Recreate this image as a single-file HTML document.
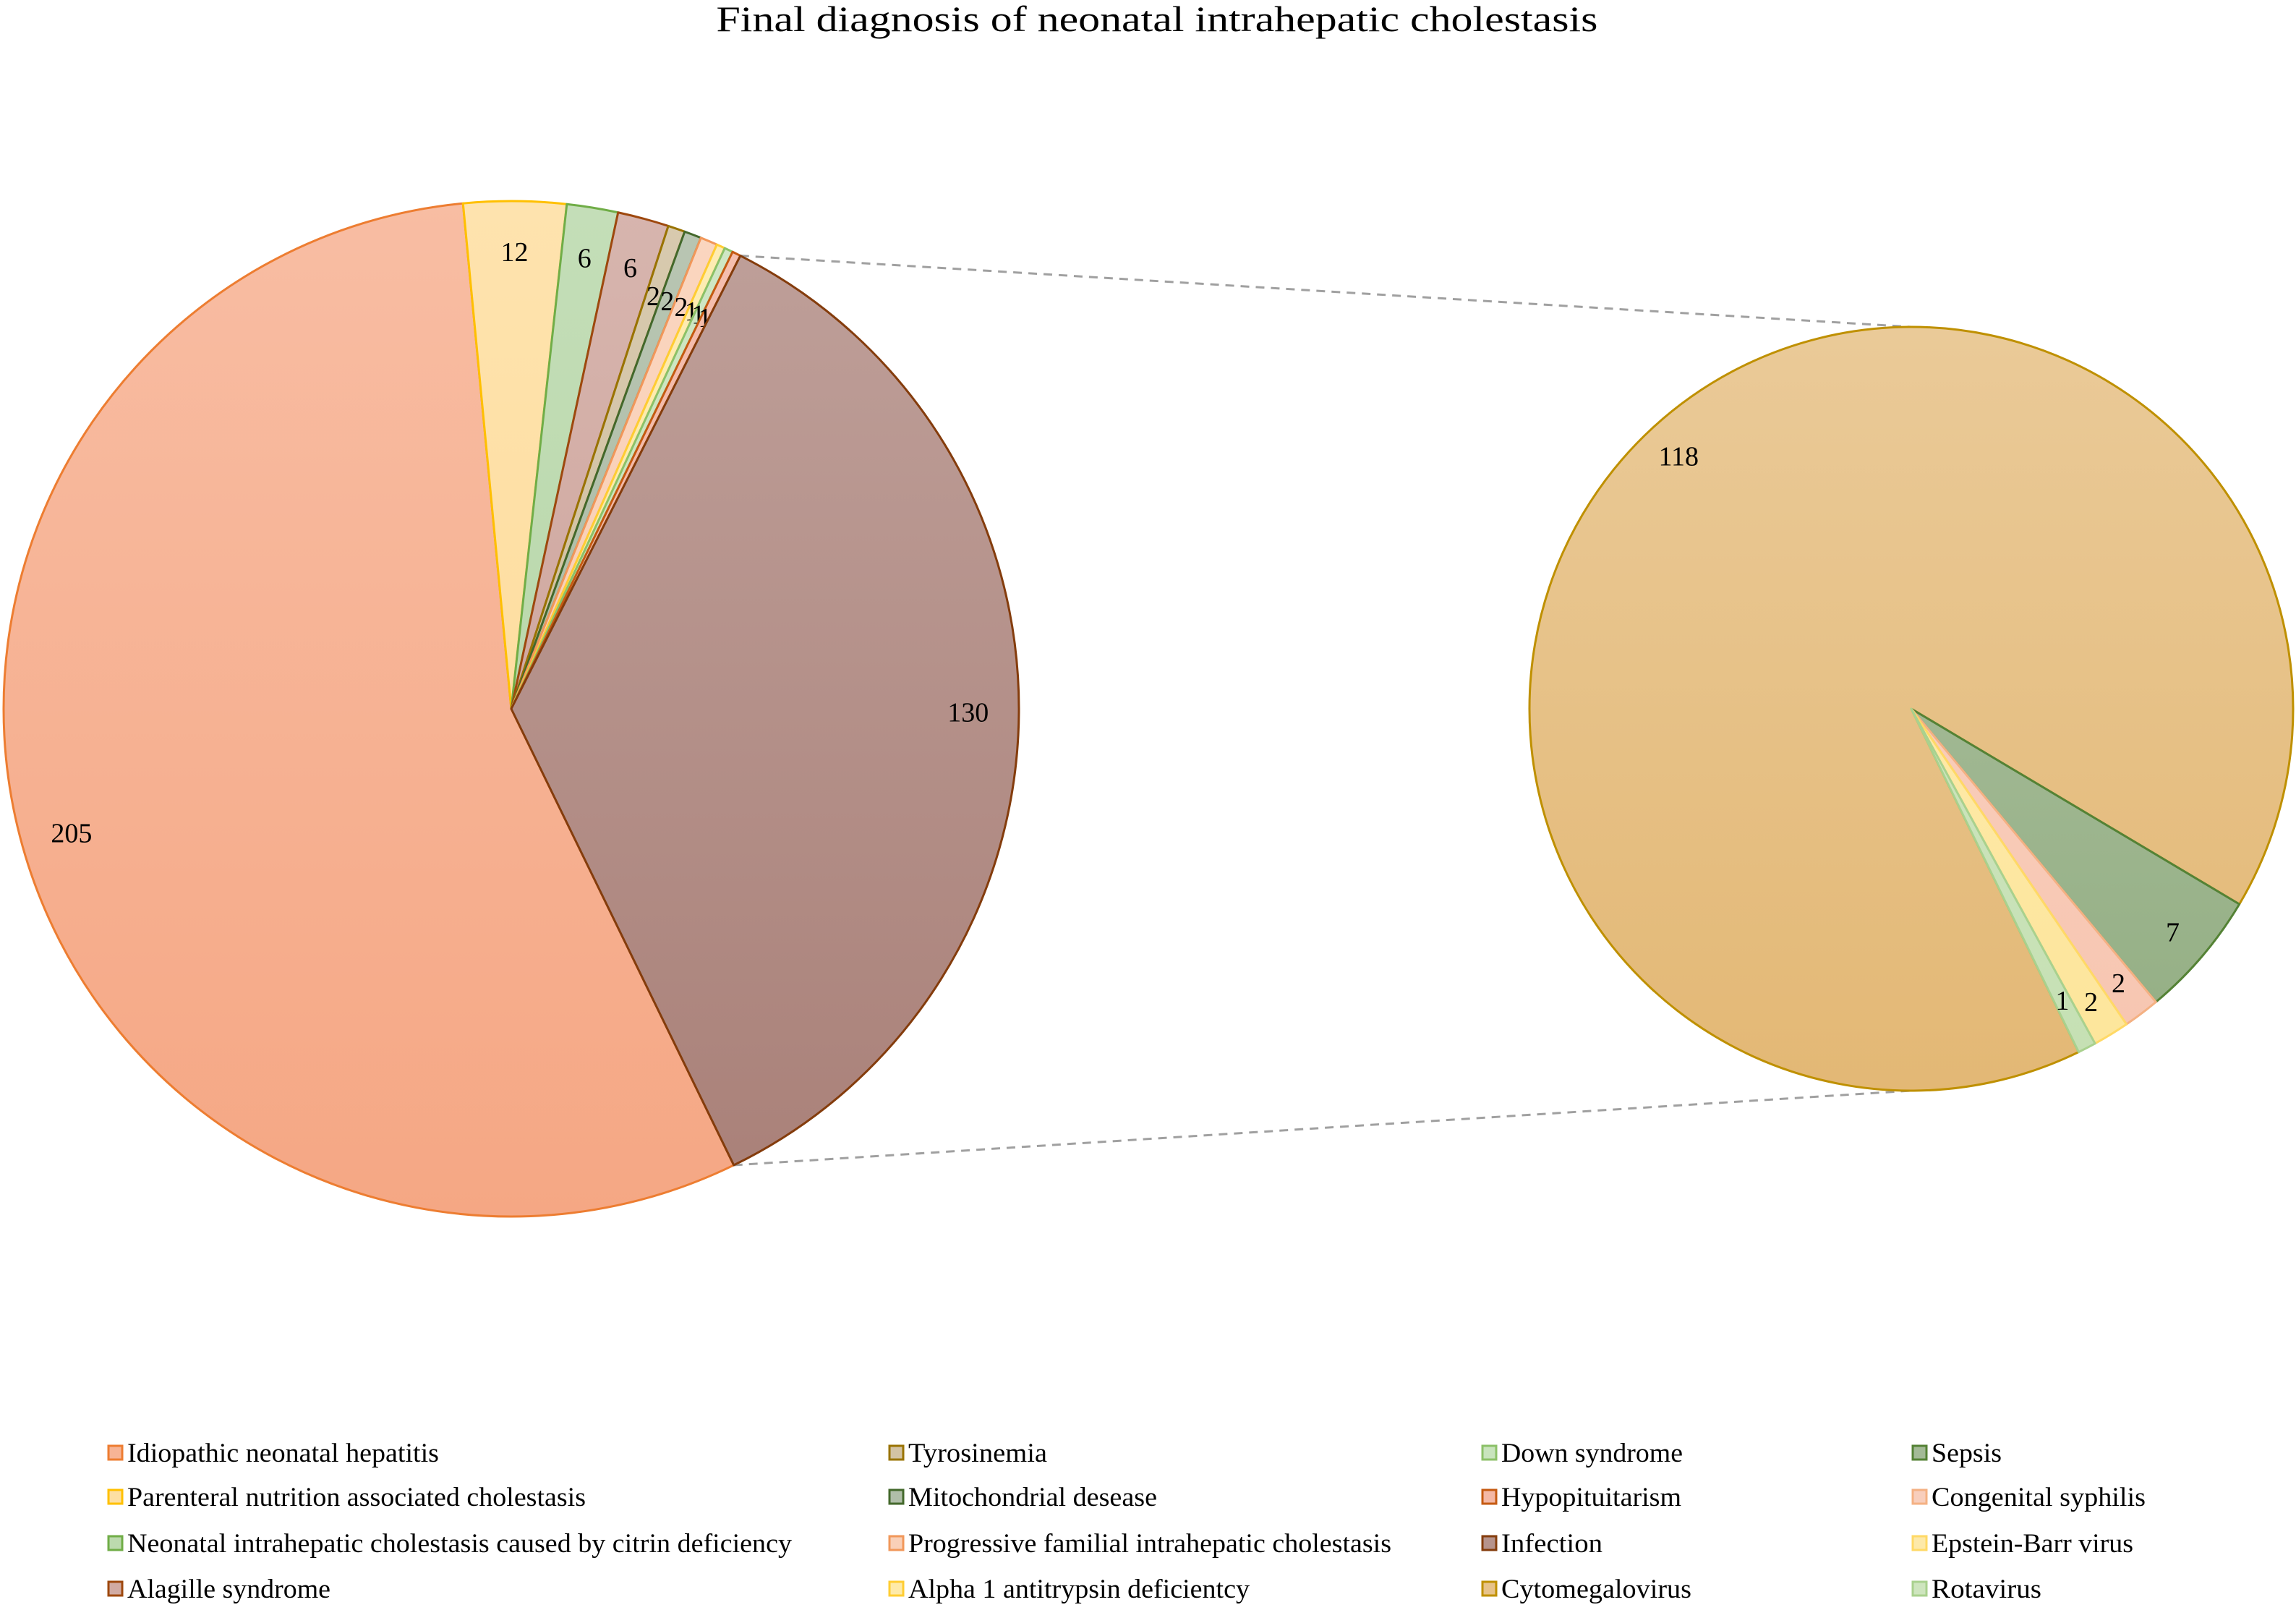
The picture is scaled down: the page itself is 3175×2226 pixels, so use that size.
<!DOCTYPE html>
<html><head><meta charset="utf-8"><style>
html,body{margin:0;padding:0;background:#fff;}
svg{display:block;font-family:"Liberation Serif",serif;}
</style></head><body>
<svg id="chart" width="3175" height="2226" viewBox="0 0 3175 2226" xmlns="http://www.w3.org/2000/svg">
<defs id="defs"></defs>
<text x="1600" y="43" text-anchor="middle" font-size="50" textLength="1219" lengthAdjust="spacingAndGlyphs">Final diagnosis of neonatal intrahepatic cholestasis</text>
<g id="connectors"></g>
<g id="main-pie"></g>
<g id="sub-pie"></g>
<g id="legend"></g>
</svg>
<script>
const mainCategories = ["Idiopathic neonatal hepatitis","Parenteral nutrition associated cholestasis","Neonatal intrahepatic cholestasis caused by citrin deficiency","Alagille syndrome","Tyrosinemia","Mitochondrial desease","Progressive familial intrahepatic cholestasis","Alpha 1 antitrypsin deficientcy","Down syndrome","Hypopituitarism","Infection"];
const mainValues = [205,12,6,6,2,2,2,1,1,1,130];
const subCategories = ["Cytomegalovirus","Sepsis","Congenital syphilis","Epstein-Barr virus","Rotavirus"];
const subValues = [118,7,2,2,1];
const mainFills = ["#f5a784","#fdd993","#b0d3a0","#c99c93","#cbb894","#a2b39a","#f8c8ab","#fee69a","#c0dfb1","#f2ab95","#a98078"];
const mainStrokes = ["#ed7d31","#ffc000","#70ad47","#9e480e","#997300","#43682b","#f1975a","#ffcd33","#8cc168","#c55a11","#843c0c"];
const subFills = ["#e3b875","#93ae83","#f7c5b0","#fde59a","#c5e0b3"];
const subStrokes = ["#bf9000","#548235","#f4b183","#ffd966","#a9d18e"];
const legendOrder = ["Idiopathic neonatal hepatitis","Parenteral nutrition associated cholestasis","Neonatal intrahepatic cholestasis caused by citrin deficiency","Alagille syndrome","Tyrosinemia","Mitochondrial desease","Progressive familial intrahepatic cholestasis","Alpha 1 antitrypsin deficientcy","Down syndrome","Hypopituitarism","Infection","Cytomegalovirus","Sepsis","Congenital syphilis","Epstein-Barr virus","Rotavirus"];
const legendWidths = [431,634,919,281,192,344,668,472,251,249,140,263,97,296,279,152];

const NS="http://www.w3.org/2000/svg";
const START=154;
function mk(t,a,p){const e=document.createElementNS(NS,t);for(const k in a)e.setAttribute(k,a[k]);p.appendChild(e);return e;}
function lighten(hex,f){const n=parseInt(hex.slice(1),16);let r=n>>16,g=(n>>8)&255,b=n&255;r=Math.round(r+(255-r)*f);g=Math.round(g+(255-g)*f);b=Math.round(b+(255-b)*f);return `rgb(${r},${g},${b})`;}
const defs=document.getElementById('defs');
function grad(id,col,y0,y1){const g=mk('linearGradient',{id:id,x1:0,y1:y0,x2:0,y2:y1,gradientUnits:'userSpaceOnUse'},defs);mk('stop',{offset:0,'stop-color':lighten(col,0.25)},g);mk('stop',{offset:1,'stop-color':col},g);}
function pt(cx,cy,r,deg){const a=deg*Math.PI/180;return [cx+r*Math.sin(a),cy-r*Math.cos(a)];}
function drawPie(gid,cx,cy,R,cats,vals,fills,strokes,prefix){
  const g=document.getElementById(gid);
  const tot=vals.reduce((a,b)=>a+b,0);
  let ang=START;
  vals.forEach((v,i)=>{
    const sw=v/tot*360;
    const a0=ang,a1=ang+sw;
    const p0=pt(cx,cy,R,a0),p1=pt(cx,cy,R,a1);
    const gidn=prefix+'g'+i;grad(gidn,fills[i],cy-R,cy+R);
    const d=`M${cx},${cy} L${p0[0]},${p0[1]} A${R},${R} 0 ${sw>180?1:0} 1 ${p1[0]},${p1[1]} Z`;
    const path=mk('path',{d:d,fill:`url(#${gidn})`,stroke:strokes[i],'stroke-width':3,'stroke-linejoin':'round'},g);
    
    
    const lp=pt(cx,cy,R*(sw<5?0.86:0.9),(a0+a1)/2);
    const t=mk('text',{x:lp[0],y:lp[1]+13,'text-anchor':'middle','font-size':38},g);
    t.textContent=v;
    
    
    ang=a1;
  });
}
const MC=[707,980,702], SC=[2643,980,528];
drawPie('main-pie',MC[0],MC[1],MC[2],mainCategories,mainValues,mainFills,mainStrokes,'m');
drawPie('sub-pie',SC[0],SC[1],SC[2],subCategories,subValues,subFills,subStrokes,'s');
(function(){
  const tot=mainValues.reduce((a,b)=>a+b,0);
  const infSw=mainValues[mainValues.length-1]/tot*360;
  const aStart=START-infSw, aEnd=START;
  const p0=pt(MC[0],MC[1],MC[2],aStart),p1=pt(MC[0],MC[1],MC[2],aEnd);
  const c=document.getElementById('connectors');
  const l1=mk('line',{x1:p0[0],y1:p0[1],x2:SC[0],y2:SC[1]-SC[2],stroke:'#a0a0a0','stroke-width':3,'stroke-dasharray':'12,9'},c);
  
  
  const l2=mk('line',{x1:p1[0],y1:p1[1],x2:SC[0],y2:SC[1]+SC[2],stroke:'#a0a0a0','stroke-width':3,'stroke-dasharray':'12,9'},c);
  
  
})();
(function(){
  const lg=document.getElementById('legend');
  const allCats=mainCategories.concat(subCategories);
  const allF=mainFills.concat(subFills), allS=mainStrokes.concat(subStrokes);
  const colX=[150,1230,2050,2645], rowY=[2009,2070,2134,2197];
  legendOrder.forEach((name,k)=>{
    const col=Math.floor(k/4), row=k%4;
    const idx=allCats.indexOf(name);
    const x=colX[col], y=rowY[row];
    const item=mk('g',{},lg);
    
    
    mk('rect',{x:x,y:y-10,width:19,height:19,fill:lighten(allF[idx],0.15),stroke:allS[idx],'stroke-width':3},item);
    const t=mk('text',{x:x+26,y:y+12,'font-size':37,textLength:legendWidths[k],lengthAdjust:'spacingAndGlyphs'},item);
    t.textContent=name;
  });
})();
</script>
</body></html>
